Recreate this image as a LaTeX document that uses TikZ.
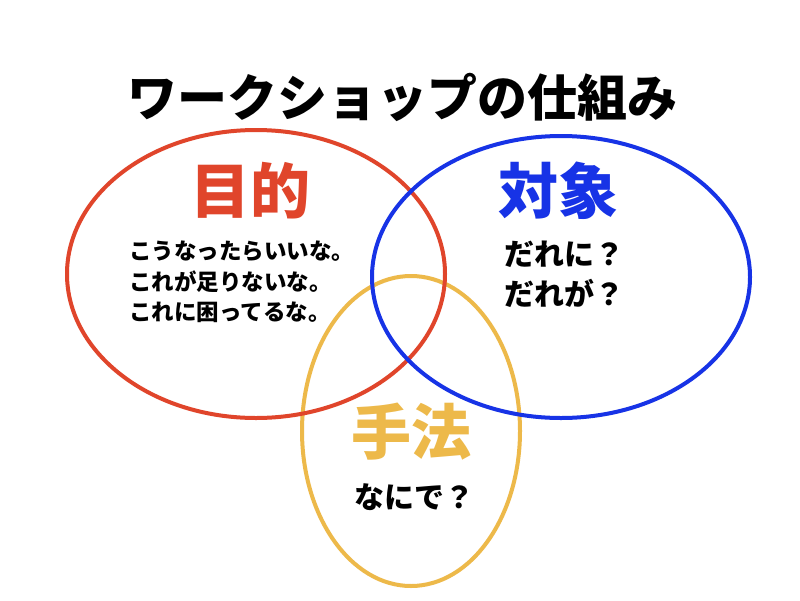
\documentclass[tikz,border=0pt]{standalone}
\usepackage{fontspec}
\newfontfamily\cjk{Noto Sans CJK JP}
\definecolor{cred}{HTML}{E0452B}
\definecolor{cblue}{HTML}{1733E6}
\definecolor{cyellow}{HTML}{EDB94A}
\tikzset{
  ring/.style={line width=4pt},
  heading/.style={font=\cjk\bfseries\fontsize{60}{64}\selectfont, inner sep=0pt},
  body/.style={font=\cjk\bfseries\fontsize{22.5}{30.5}\selectfont, inner sep=0pt, align=left},
  bodybig/.style={font=\cjk\bfseries\fontsize{30}{40}\selectfont, inner sep=0pt, align=left}
}
\begin{document}
\begin{tikzpicture}[x=1pt,y=-1pt]
\useasboundingbox[fill=white] (0,0) rectangle (800,600);
\draw[ring, cyellow] (411,431) ellipse [x radius=109, y radius=155];
\draw[ring, cred] (256,274) ellipse [x radius=189, y radius=144];
\draw[ring, cblue] (561,277) ellipse [x radius=189, y radius=141];
\node[font=\cjk\bfseries\fontsize{50}{54}\selectfont, inner sep=0pt] (title) at (402,97) {ワークショップの仕組み};
\node[heading, text=cred] (mokuteki) at (250,191) {目的};
\node[heading, text=cblue] (taisho) at (558,191) {対象};
\node[heading, text=cyellow] (shuho) at (411,432) {手法};
\node[body, anchor=west] (mtext) at (129,282) {こうなったらいいな。\\これが足りないな。\\これに困ってるな。};
\node[bodybig, anchor=west] (ttext) at (504,274) {だれに？\\だれが？};
\node[bodybig] (stext) at (414,497) {なにで？};
\end{tikzpicture}
\end{document}
